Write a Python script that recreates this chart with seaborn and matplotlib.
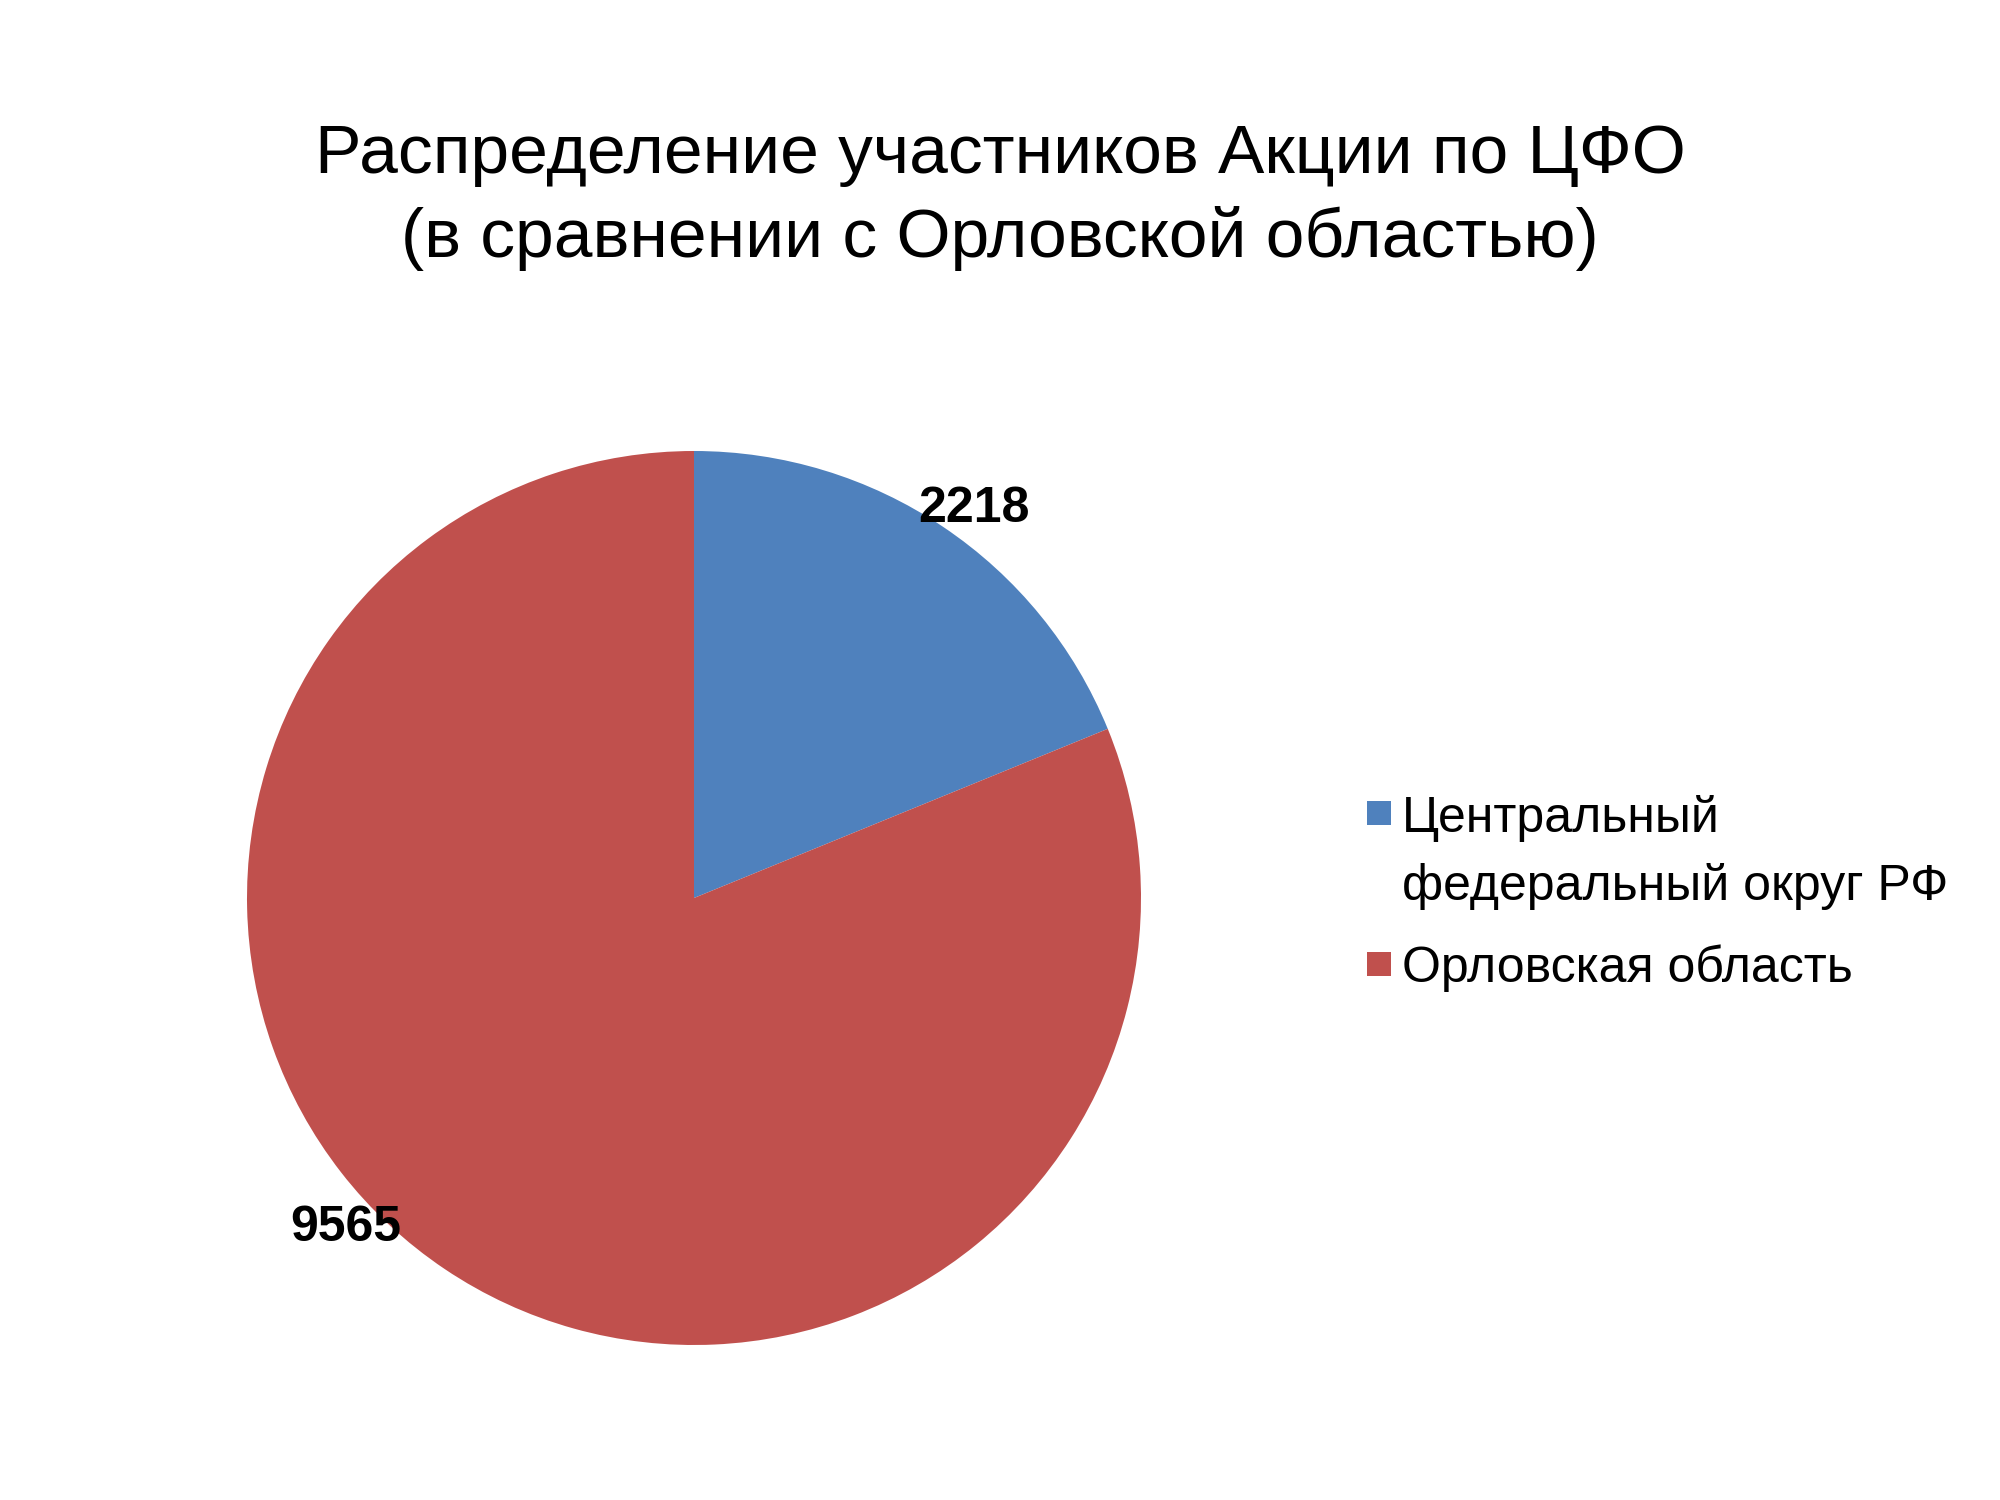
import matplotlib
matplotlib.use("Agg")
import matplotlib.pyplot as plt
from matplotlib.patches import Rectangle
from matplotlib.transforms import Affine2D
import seaborn as sns

# ---- data ----
categories = ["Центральный\nфедеральный округ РФ", "Орловская область"]
values = [2218, 9565]
value_labels = ["2218", "9565"]
colors = ["#4F81BD", "#C0504D"]
title_text = "Распределение участников Акции по ЦФО\n(в сравнении с Орловской областью)"

sns.set_theme(style="white")
plt.rcParams["font.family"] = ["Liberation Sans", "DejaVu Sans"]

W, H, DPI = 2000, 1500, 100
fig = plt.figure(figsize=(W / DPI, H / DPI), dpi=DPI)
fig.patch.set_facecolor("white")

# pixel (top-left origin) -> display transform
px = Affine2D().scale(1, -1).translate(0, H)

# pie axes
cx, cy, r = 694, 898, 447
ax = fig.add_axes([(cx - r) / W, (H - cy - r) / H, 2 * r / W, 2 * r / H])
wedges, texts = ax.pie(values, colors=colors, startangle=90, counterclock=False,
                       radius=1.0, labels=value_labels, labeldistance=1.08,
                       wedgeprops=dict(linewidth=0),
                       textprops=dict(fontsize=36, fontweight="bold", color="black",
                                      ha="center", va="center"))
ax.set_xlim(-1, 1)
ax.set_ylim(-1, 1)
ax.set_aspect("equal")
ax.axis("off")
for t in texts:
    t.set_clip_on(False)
texts[0].set_position((0.627, 0.870))
texts[1].set_position((-0.780, -0.738))

# title (va='baseline' anchors the last line)
fig.text(1000, 257, title_text, transform=px, ha="center", va="baseline",
         fontsize=50, color="black", linespacing=1.38, multialignment="center")

# legend (manual, handle aligned with first line of each entry)
leg_x_box, leg_x_text = 1367, 1402
first_baselines = [831, 982]
last_baselines = [900, 982]
for lab, col, fb, lb in zip(categories, colors, first_baselines, last_baselines):
    fig.add_artist(Rectangle((leg_x_box, fb - 6), 24, -24, transform=px,
                             facecolor=col, edgecolor="none"))
    fig.text(leg_x_text, lb, lab, transform=px, ha="left", va="baseline",
             fontsize=36, color="black", linespacing=1.57)

fig.savefig("out.png", dpi=DPI, facecolor="white")
